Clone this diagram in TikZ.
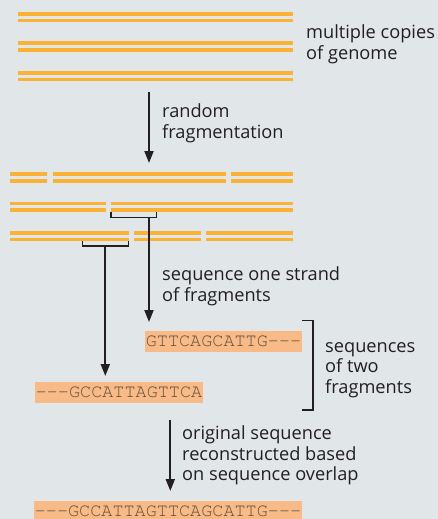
\documentclass[tikz,border=0pt]{standalone}
\usepackage[T1]{fontenc}
\usepackage{fontspec}
\setmainfont{Open Sans}
\newcommand\seqfont{\fontencoding{T1}\fontfamily{pcr}\fontseries{m}\fontshape{n}}
\usetikzlibrary{arrows.meta}
\definecolor{bg}{HTML}{E1E6E9}
\definecolor{strand}{HTML}{F9B233}
\definecolor{seqfill}{HTML}{F8BA86}
\definecolor{ink}{HTML}{231F20}
\definecolor{seqink}{HTML}{5E4B3C}
\begin{document}
\begin{tikzpicture}[x=1pt,y=-1pt,
  strandline/.style={strand, line width=3.6pt},
  bigarrow/.style={ink, line width=2pt, -{Triangle[length=12pt,width=9pt]}},
  bracketline/.style={ink, line width=1.2pt},
  lab/.style={font=\fontsize{18.2}{20.7}\selectfont, text=ink, align=left, inner sep=0pt, anchor=base west},
  seqbox/.style={fill=seqfill, text=seqink, font=\seqfont\fontsize{18.5}{20}\selectfont, inner xsep=1.2pt, inner ysep=0pt, minimum height=21pt, text height=11pt, text depth=2pt}
]
\fill[bg] (0,0) rectangle (438,519);
\useasboundingbox (0,0) rectangle (438,519);

% genome copies
\foreach \y in {14,43.3,72.7}{
  \draw[strandline] (18,\y) -- (293.3,\y);
  \draw[strandline] (18,\y+6.7) -- (293.3,\y+6.7);
}
% fragmented rows
\foreach \a/\b in {10/47,52.7/226,231.3/293.3}{
  \draw[strandline] (\a,174) -- (\b,174);
  \draw[strandline] (\a,180.7) -- (\b,180.7);
}
\foreach \a/\b in {10/106,111/293.3}{
  \draw[strandline] (\a,203.3) -- (\b,203.3);
  \draw[strandline] (\a,210) -- (\b,210);
}
\foreach \a/\b in {10/129,134.3/201,206.3/293.3}{
  \draw[strandline] (\a,232.7) -- (\b,232.7);
  \draw[strandline] (\a,239.3) -- (\b,239.3);
}

% labels (anchor = baseline of last line)
\node[lab] (genomelab) at (306,59.7) {multiple copies\\of genome};
\node[lab] (fraglab) at (162,138) {random\\fragmentation};
\node[lab] (seqlab) at (162,301) {sequence one strand\\of fragments};
\node[lab] (twolab) at (325,393.5) {sequences\\of two\\fragments};
\node[lab] (origlab) at (182,480.7) {original sequence\\reconstructed based\\on sequence overlap};

% sequence boxes
\node[seqbox] (seqA) at (223.5,341.5) {GTTCAGCATTG-{}-{}-};
\node[seqbox] (seqB) at (119,392.5) {-{}-{}-GCCATTAGTTCA};
\node[seqbox] (seqC) at (168,511.5) {-{}-{}-GCCATTAGTTCAGCATTG-{}-{}-};

% brackets under fragments
\coordinate (b1m) at (149,217.5);
\coordinate (b2m) at (105.3,246);
\draw[bracketline] (111,211.5) -- (111,217.5) -- (156.7,217.5) -- (156.7,211.5);
\draw[bracketline] (82.7,240.5) -- (82.7,246) -- (128.3,246) -- (128.3,240.5);

% arrows
\coordinate (a1s) at (149,92);
\coordinate (a1e) at (149,163);
\coordinate (a2e) at (149,322);
\coordinate (a3e) at (105.3,376);
\coordinate (a4s) at (170.3,420);
\coordinate (a4e) at (170.3,491);
\draw[bigarrow] (a1s) -- (a1e);
\draw[bigarrow] (b1m) -- (a2e);
\draw[bigarrow] (b2m) -- (a3e);
\draw[bigarrow] (a4s) -- (a4e);

% right bracket
\draw[bracketline] (302,320.7) -- (313,320.7) -- (313,410) -- (302,410);
\end{tikzpicture}
\end{document}
